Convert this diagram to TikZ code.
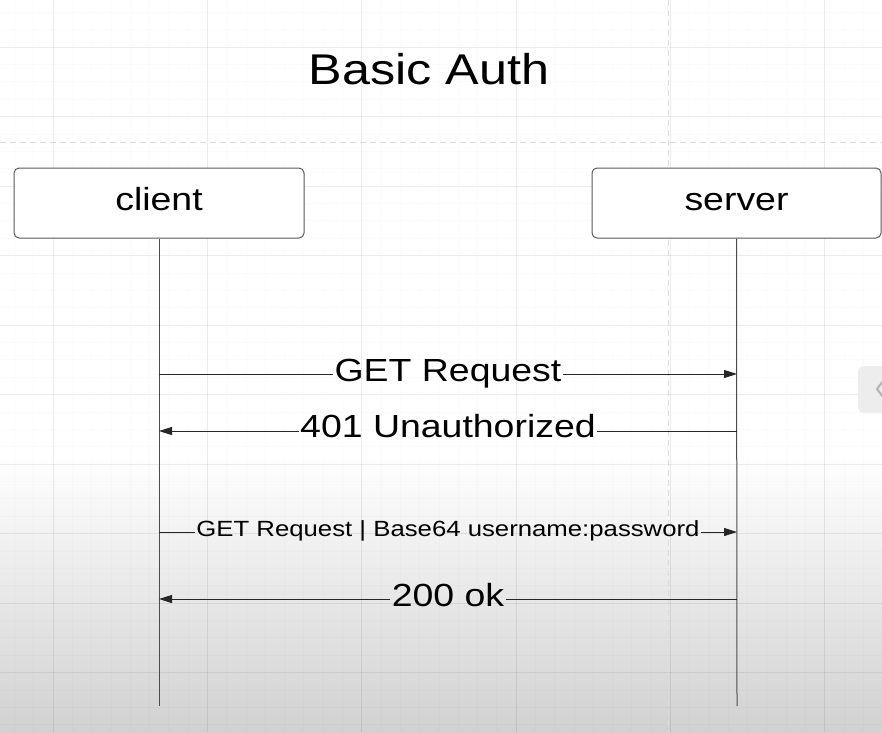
\documentclass[tikz,border=0pt]{standalone}
\usepackage{fontspec}
\setmainfont[FakeStretch=1.17]{Liberation Sans}
\usetikzlibrary{arrows.meta}
\begin{document}
\begin{tikzpicture}[x=1pt, y=-1pt,
    actor/.style={draw=black!65, fill=white, rounded corners=5pt, line width=1pt,
        minimum width=290pt, minimum height=70pt, text height=23pt, text depth=9pt,
        font=\fontsize{32}{36}\selectfont},
    life/.style={black!70, line width=1pt},
    msg/.style={black!85, line width=1pt},
    tip/.style={-{Triangle[length=13pt,width=8pt]}},
    lbl/.style={inner xsep=1.5pt, inner ysep=0pt, anchor=base, font=\fontsize{32}{36}\selectfont},
    gridmajor/.style={black, opacity=0.06, line width=0.8pt},
    gridminor/.style={black, opacity=0.015, line width=0.6pt},
    pagebreak/.style={black!14, line width=1pt, dash pattern=on 6pt off 4pt}]
    \useasboundingbox (0,0) rectangle (882,732);
    \fill[white] (0,0) rectangle (882,732);
    \shade[top color=white, bottom color=black!18] (0,455) rectangle (882,732);

    % Grid
    \foreach \i in {-3,...,43} \draw[gridminor] ({53+19.29*\i},0) -- ({53+19.29*\i},732);
    \foreach \i in {-3,...,40} \draw[gridminor] (0,{47+17.375*\i}) -- (882,{47+17.375*\i});
    \foreach \i in {0,...,5} \draw[gridmajor] ({53+154.3*\i},0) -- ({53+154.3*\i},732);
    \foreach \i in {0,...,10} \draw[gridmajor] (0,{47+69.5*\i}) -- (882,{47+69.5*\i});
    \draw[pagebreak] (0,142) -- (882,142);
    \draw[pagebreak] (668,0) -- (668,732);
    \fill[black!7, rounded corners=6pt] (858,366) rectangle (900,413);
    \draw[black!30, line width=2pt] (883,381) -- (877,389) -- (883,397);

    \node[anchor=base, font=\fontsize{43}{50}\selectfont] (title) at (429,84) {Basic Auth};

    \node[actor] (client) at (159,203) {client};
    \node[actor, minimum width=289pt] (server) at (736.5,203) {server};
    \coordinate (cEnd) at (159,706); \coordinate (sEnd) at (737,706);
    \draw[life] (client.south) -- (cEnd);
    \draw[life] (server.south) -- (sEnd);

    % Messages
    \coordinate (c1) at (159,374); \coordinate (s1) at (737,374);
    \node[lbl] (m1) at (448,381) {GET Request};
    \draw[msg] (c1) -- (c1 -| m1.west); \draw[msg, tip] (c1 -| m1.east) -- (s1);

    \coordinate (c2) at (159,431); \coordinate (s2) at (737,431);
    \node[lbl] (m2) at (448,437) {401 Unauthorized};
    \draw[msg] (s2) -- (s2 -| m2.east); \draw[msg, tip] (s2 -| m2.west) -- (c2);

    \coordinate (c3) at (159,532); \coordinate (s3) at (737,532);
    \node[lbl, font=\fontsize{22}{26}\selectfont] (m3) at (448,536.5) {GET Request | Base64 username:password};
    \draw[msg] (c3) -- (c3 -| m3.west); \draw[msg, tip] (c3 -| m3.east) -- (s3);

    \coordinate (c4) at (159,599); \coordinate (s4) at (737,599);
    \node[lbl] (m4) at (448,606) {200 ok};
    \draw[msg] (s4) -- (s4 -| m4.east); \draw[msg, tip] (s4 -| m4.west) -- (c4);
\end{tikzpicture}
\end{document}
